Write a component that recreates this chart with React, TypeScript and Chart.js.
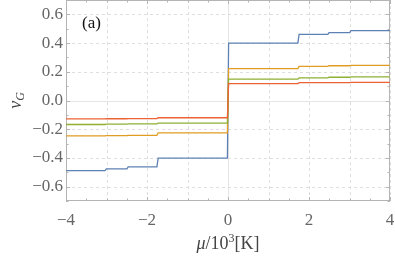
import React, { useEffect, useRef } from "react";
import { Chart, registerables } from "chart.js";

Chart.register(...registerables);

// step positions along mu/10^3 [K]
const breaks = [-4, -3.02, -2.48, -1.74, 0, 1.74, 2.48, 3.02, 4];
// plateau values of nu_G for each interval between breaks
const blueLevels = [-0.488, -0.476, -0.462, -0.402, 0.4, 0.46, 0.473, 0.486];
const orangeLevels = [-0.247, -0.245, -0.243, -0.225, 0.222, 0.238, 0.242, 0.245];
const greenLevels = [-0.167, -0.165, -0.163, -0.157, 0.149, 0.158, 0.162, 0.165];
const redLevels = [-0.128, -0.127, -0.126, -0.12, 0.117, 0.124, 0.125, 0.126];

const xTickValues = [-4, -3, -2, -1, 0, 1, 2, 3, 4];
const xLabelValues = [-4, -2, 0, 2, 4];
const yTickValues = [-0.6, -0.4, -0.2, 0, 0.2, 0.4, 0.6];

const COLORS = {
  blue: "#5e81b5",
  orange: "#e19c24",
  green: "#8fb032",
  red: "#eb6235",
};

function stepPoints(levels: number[]) {
  const eps = 0.015;
  const pts: { x: number; y: number }[] = [];
  const n = levels.length;
  for (let i = 0; i < n; i++) {
    pts.push({ x: breaks[i] + (i > 0 ? eps : 0), y: levels[i] });
    pts.push({ x: breaks[i + 1] - (i < n - 1 ? eps : 0), y: levels[i] });
  }
  return pts;
}

const minus = (s: string) => s.replace("-", "\u2212");

const framePlugin = {
  id: "framePlugin",
  beforeDatasetsDraw(chart: any) {
    const { ctx, chartArea: a, scales } = chart;
    const xs = scales.x;
    const ys = scales.y;
    ctx.save();
    ctx.lineWidth = 1;
    // grid
    xTickValues.forEach((v) => {
      const px = Math.round(xs.getPixelForValue(v)) + 0.5;
      ctx.beginPath();
      if (v === 0) {
        ctx.setLineDash([]);
        ctx.strokeStyle = "#e4e4e4";
      } else {
        ctx.setLineDash([3, 3]);
        ctx.strokeStyle = "#dedede";
      }
      ctx.moveTo(px, a.top);
      ctx.lineTo(px, a.bottom);
      ctx.stroke();
    });
    yTickValues.forEach((v) => {
      const py = Math.round(ys.getPixelForValue(v)) + 0.5;
      ctx.beginPath();
      if (Math.abs(v) < 1e-9) {
        ctx.setLineDash([]);
        ctx.strokeStyle = "#e4e4e4";
      } else {
        ctx.setLineDash([3, 3]);
        ctx.strokeStyle = "#dedede";
      }
      ctx.moveTo(a.left, py);
      ctx.lineTo(a.right, py);
      ctx.stroke();
    });
    ctx.setLineDash([]);
    // frame
    ctx.strokeStyle = "#b4b4b4";
    ctx.strokeRect(Math.round(a.left) + 0.5, Math.round(a.top) + 0.5, Math.round(a.right - a.left) - 1, Math.round(a.bottom - a.top) - 1);
    // frame ticks
    ctx.beginPath();
    for (let k = -8; k <= 8; k++) {
      const v = k / 2;
      const len = k % 4 === 0 ? 4 : 2.5;
      const px = Math.round(xs.getPixelForValue(v)) + 0.5;
      ctx.moveTo(px, a.bottom);
      ctx.lineTo(px, a.bottom - len);
      ctx.moveTo(px, a.top);
      ctx.lineTo(px, a.top + len);
    }
    for (let k = -7; k <= 7; k++) {
      const v = k / 10;
      const len = k % 2 === 0 ? 4 : 2.5;
      const py = Math.round(ys.getPixelForValue(v)) + 0.5;
      ctx.moveTo(a.left, py);
      ctx.lineTo(a.left + len, py);
      ctx.moveTo(a.right, py);
      ctx.lineTo(a.right - len, py);
    }
    ctx.stroke();
    ctx.restore();
  },
  afterDraw(chart: any) {
    const { ctx, chartArea: a } = chart;
    ctx.save();
    // panel label
    ctx.fillStyle = "#111";
    ctx.font = "17px 'Liberation Serif'";
    ctx.textBaseline = "middle";
    ctx.textAlign = "left";
    ctx.fillText("(a)", a.left + 16, a.top + 24);
    // y title nu_G
    ctx.fillStyle = "#444";
    ctx.translate(16, (a.top + a.bottom) / 2);
    ctx.rotate(-Math.PI / 2);
    ctx.font = "italic 18px 'Liberation Serif'";
    ctx.textAlign = "left";
    ctx.textBaseline = "alphabetic";
    const w1 = ctx.measureText("\u03bd").width;
    ctx.font = "italic 12px 'Liberation Serif'";
    const w2 = ctx.measureText("G").width;
    const total = w1 + w2;
    ctx.font = "italic 18px 'Liberation Serif'";
    ctx.fillText("\u03bd", -total / 2, 5);
    ctx.font = "italic 12px 'Liberation Serif'";
    ctx.fillText("G", -total / 2 + w1, 8);
    ctx.restore();

    // x title mu/10^3[K]
    ctx.save();
    ctx.fillStyle = "#444";
    ctx.textBaseline = "alphabetic";
    ctx.textAlign = "left";
    const parts = [
      { t: "\u03bc", f: "italic 18px 'Liberation Serif'", dy: 0 },
      { t: "/10", f: "18px 'Liberation Serif'", dy: 0 },
      { t: "3", f: "12px 'Liberation Serif'", dy: -7 },
      { t: "[K]", f: "18px 'Liberation Serif'", dy: 0 },
    ];
    let tw = 0;
    parts.forEach((p) => {
      ctx.font = p.f;
      tw += ctx.measureText(p.t).width;
    });
    let x = (a.left + a.right) / 2 - tw / 2;
    const base = a.bottom + 48;
    parts.forEach((p) => {
      ctx.font = p.f;
      ctx.fillText(p.t, x, base + p.dy);
      x += ctx.measureText(p.t).width;
    });
    ctx.restore();
  },
};

export default function App() {
  const ref = useRef<HTMLCanvasElement | null>(null);
  useEffect(() => {
    document.body.style.margin = "0";
    if (!ref.current) return;
    const mk = (levels: number[], color: string) => ({
      data: stepPoints(levels),
      borderColor: color,
      borderWidth: 1.3,
      pointRadius: 0,
      showLine: true,
      fill: false,
      tension: 0,
    });
    const chart = new Chart(ref.current, {
      type: "scatter",
      data: {
        datasets: [
          mk(redLevels, COLORS.red),
          mk(greenLevels, COLORS.green),
          mk(orangeLevels, COLORS.orange),
          mk(blueLevels, COLORS.blue),
        ],
      },
      options: {
        animation: false,
        responsive: false,
        maintainAspectRatio: false,
        layout: { padding: { left: 0, right: 5, top: 0, bottom: 0 } },
        plugins: { legend: { display: false }, tooltip: { enabled: false } },
        scales: {
          x: {
            type: "linear",
            min: -4,
            max: 4,
            grid: { display: false, drawTicks: false },
            border: { display: false },
            afterBuildTicks: (s: any) => {
              s.ticks = xLabelValues.map((v) => ({ value: v }));
            },
            afterFit: (s: any) => {
              s.height = 56;
              s.paddingLeft = 0;
              s.paddingRight = 0;
            },
            ticks: {
              padding: 9,
              color: "#666",
              font: { family: "'Liberation Serif'", size: 17 },
              callback: (v: any) => minus(String(v)),
              maxRotation: 0,
            },
          },
          y: {
            type: "linear",
            min: -0.7,
            max: 0.7,
            grid: { display: false, drawTicks: false },
            border: { display: false },
            afterBuildTicks: (s: any) => {
              s.ticks = yTickValues.map((v) => ({ value: v }));
            },
            afterFit: (s: any) => {
              s.width = 66;
              s.paddingTop = 0;
              s.paddingBottom = 0;
            },
            ticks: {
              padding: 3,
              color: "#666",
              font: { family: "'Liberation Serif'", size: 17 },
              callback: (v: any) => minus(Number(v).toFixed(1)),
            },
          },
        },
      },
      plugins: [framePlugin],
    } as any);
    return () => chart.destroy();
  }, []);
  return (
    <div style={{ width: 395, height: 257 }}>
      <canvas ref={ref} width={395} height={257} style={{ width: 395, height: 257, display: "block" }} />
    </div>
  );
}
